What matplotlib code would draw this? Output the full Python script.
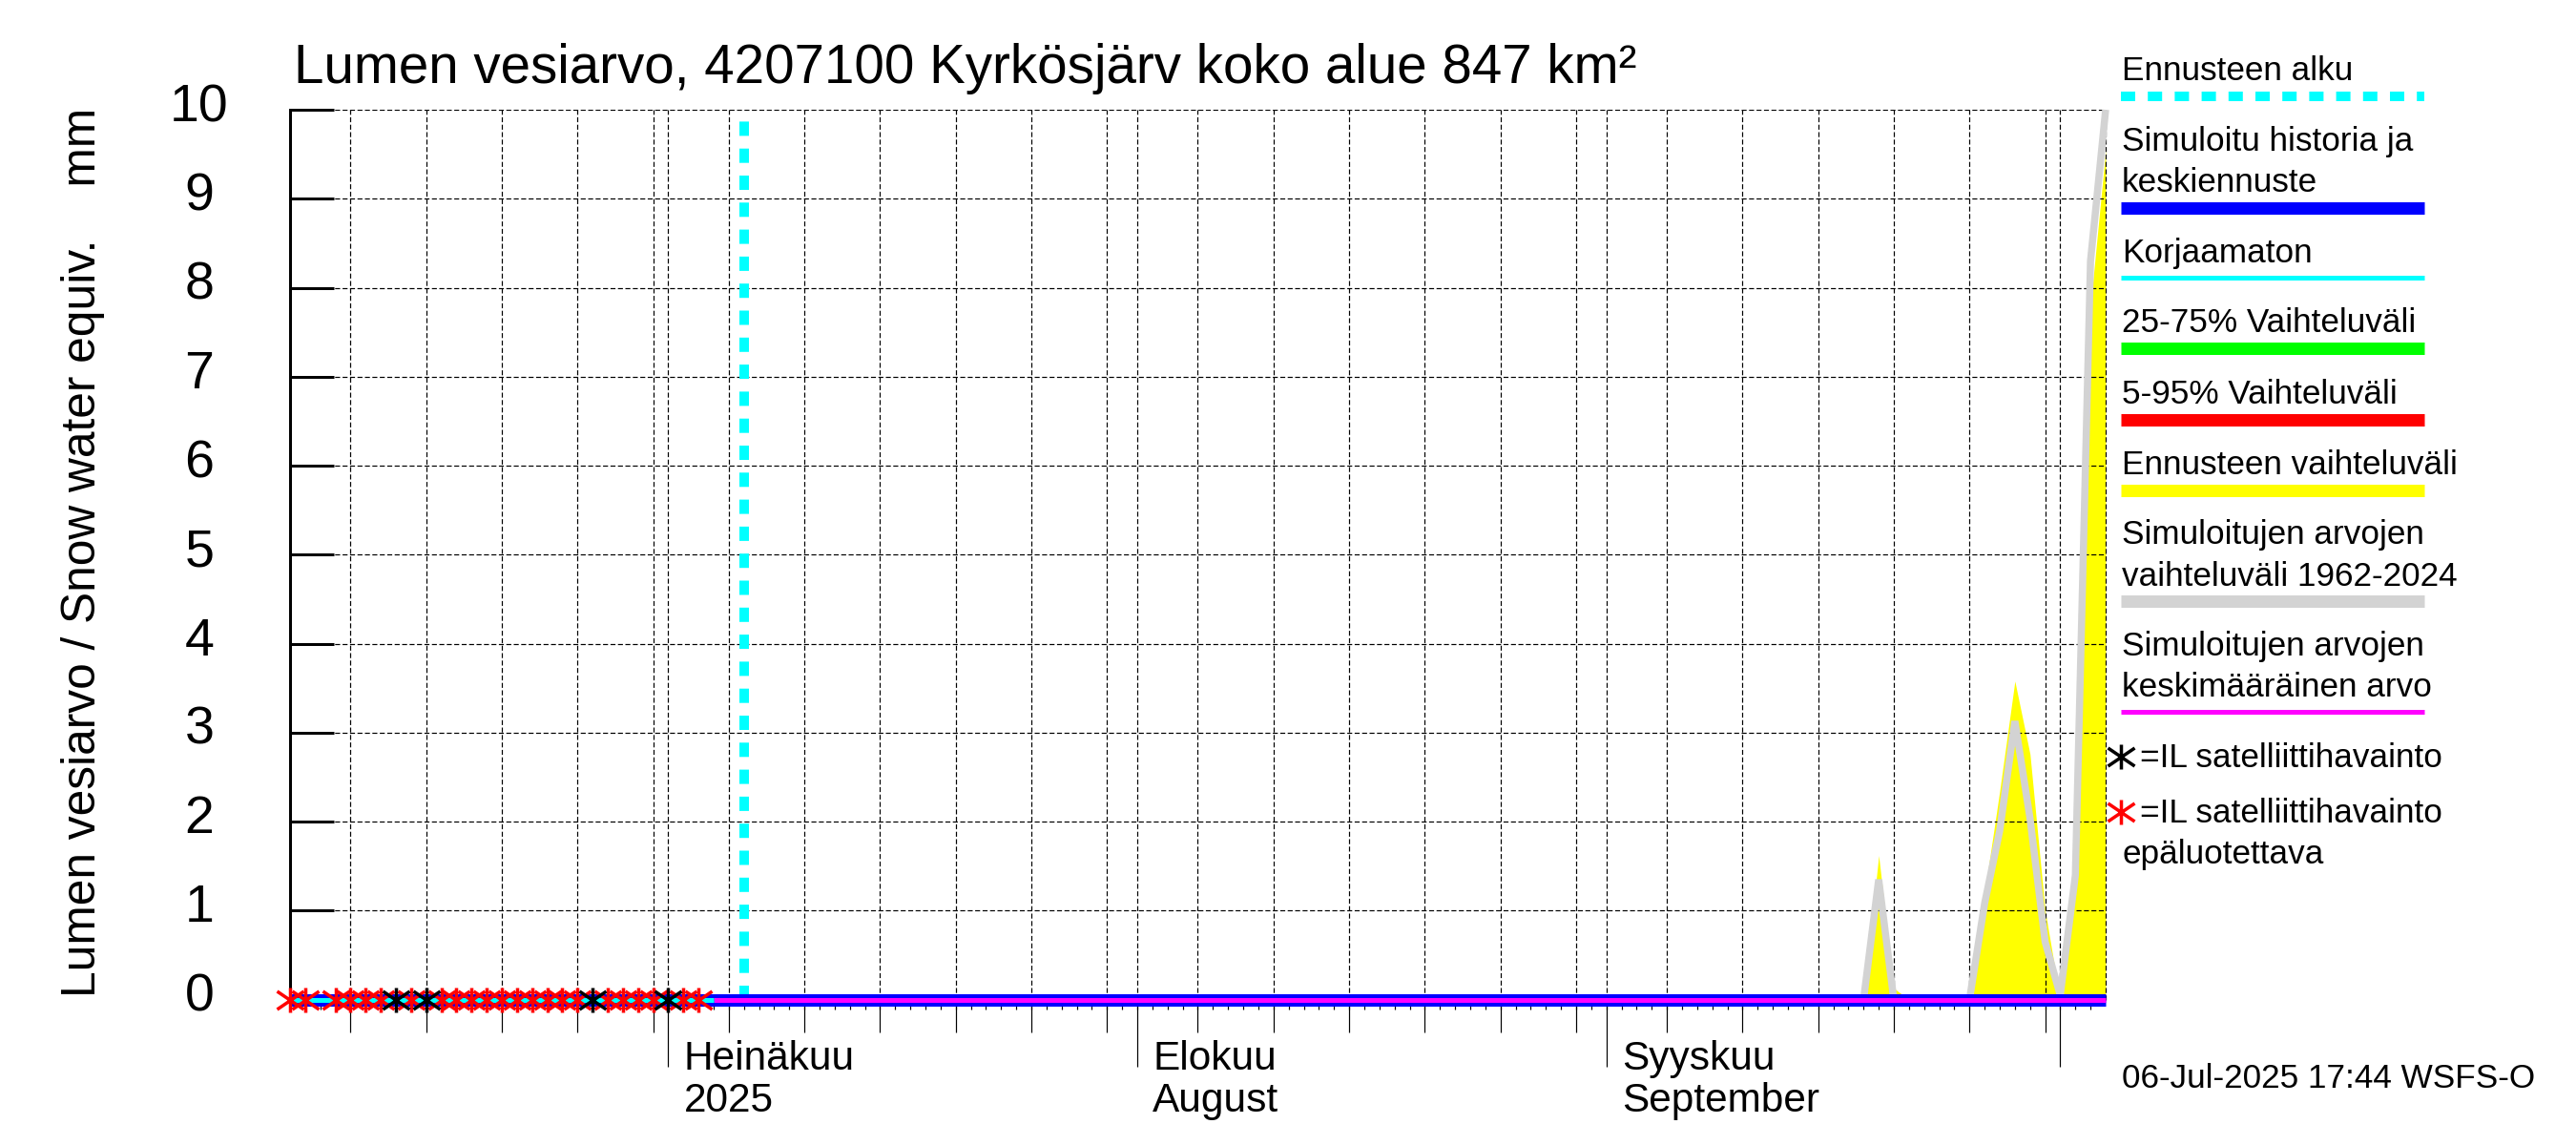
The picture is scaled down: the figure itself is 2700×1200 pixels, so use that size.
import matplotlib
matplotlib.use('Agg')
import matplotlib.dates as mdates
import matplotlib.pyplot as plt
from matplotlib.lines import Line2D
from matplotlib.path import Path

plt.rcParams['font.family'] = ['Liberation Sans', 'DejaVu Sans']
plt.rcParams['lines.scale_dashes'] = False

# Data
title = 'Lumen vesiarvo, 4207100 Kyrkösjärv koko alue 847 km²'
ylabel = 'Lumen vesiarvo / Snow water equiv.    mm'
yticks = [0, 1, 2, 3, 4, 5, 6, 7, 8, 9, 10]

start_date = '2025-06-06'
end_date = '2025-10-04'
forecast_date = '2025-07-06'
forecast_top = 9.87

sim_dates = ['2025-06-06', '2025-10-04']
sim_values = [0.0, 0.0]
raw_dates = ['2025-06-06', '2025-07-04']
raw_values = [0.0, 0.0]
mean_dates = ['2025-07-04', '2025-10-04']
mean_values = [0.0, 0.0]

range_dates = ['2025-06-06', '2025-09-18', '2025-09-19', '2025-09-20', '2025-09-21', '2025-09-25',
               '2025-09-26', '2025-09-27', '2025-09-28', '2025-09-29', '2025-09-30', '2025-10-01',
               '2025-10-02', '2025-10-03', '2025-10-04']
fc_range = [0.0, 0.0, 1.62, 0.13, 0.0, 0.0, 1.2, 2.35, 3.58, 2.76, 1.0, 0.0, 1.3, 7.8, 9.55]
hist_range = [0.0, 0.0, 1.35, 0.0, 0.0, 0.0, 1.08, 1.9, 3.13, 2.04, 0.65, 0.05, 1.4, 8.3, 10.0]

red_dates = ['2025-06-06', '2025-06-07', '2025-06-09', '2025-06-10', '2025-06-11', '2025-06-12',
             '2025-06-14', '2025-06-16', '2025-06-17', '2025-06-18', '2025-06-19', '2025-06-20',
             '2025-06-21', '2025-06-22', '2025-06-23', '2025-06-24', '2025-06-25', '2025-06-27',
             '2025-06-28', '2025-06-29', '2025-06-30', '2025-07-02', '2025-07-03']
red_values = [0.0] * len(red_dates)
black_dates = ['2025-06-13', '2025-06-15', '2025-06-26', '2025-07-01']
black_values = [0.0, 0.0, 0.0, 0.0]

month_dates = ['2025-07-01', '2025-08-01', '2025-09-01', '2025-10-01']
month_labels = ['Heinäkuu\n2025', 'Elokuu\nAugust', 'Syyskuu\nSeptember', '']
five_days = [5, 10, 15, 20, 25, 30]
five_months = [6, 7, 8, 9]

legend_rows = [
  ('Ennusteen alku', 84.4), ('Simuloitu historia ja', 157.9), ('keskiennuste', 200.8),
  ('Korjaamaton', 275.0), ('25-75% Vaihteluväli', 348.5), ('5-95% Vaihteluväli', 422.7),
  ('Ennusteen vaihteluväli', 497.0), ('Simuloitujen arvojen', 570.5),
  ('vaihteluväli 1962-2024', 613.6), ('Simuloitujen arvojen', 687.0),
  ('keskimääräinen arvo', 730.0), ('epäluotettava', 905.0), ('06-Jul-2025 17:44 WSFS-O', 1139.8),
]
legend_bars = [
  ('#00ffff', 101.0, 10), ('#0000ff', 217.5, 13), ('#00ffff', 291.4, 5), ('#00ff00', 365.3, 13),
  ('#ff0000', 439.7, 13), ('#ffff00', 513.6, 13), ('#d3d3d3', 629.5, 13), ('#ff00ff', 746.4, 5),
]

W = 2700
H = 1200
PT = 0.72 # points per pixel at dpi 100
LEGEND_SIZE = 25.3


def d(dates):
  return mdates.datestr2num(dates)


fig = plt.figure(figsize=(W/100, H/100), dpi=100)
ax = fig.add_axes([304/W, 1-1047.7/H, (2207-304)/W, (1047.7-115)/H])
ax.set_xlim(d(start_date), d(end_date))
ax.set_ylim(0, 10)
ax.set_axisbelow('line')

for side in ['top', 'right', 'bottom']:
  ax.spines[side].set_visible(False)
ax.spines['left'].set_linewidth(3*PT)
ax.spines['left'].set_zorder(6)

# grid, dashes are in points because scale_dashes is off
grid_style = (0, (5.2*PT, 2.6*PT))
cyan_dash = (0, (15*PT, 13.3*PT))
ax.set_yticks(yticks)
ax.set_yticklabels([])
ax.tick_params(axis='y', which='major', direction='in', length=46*PT, width=3*PT)
ax.grid(axis='y', color='black', linewidth=1.2*PT, linestyle=grid_style)

five_ticks = [mdates.datestr2num('2025-%02d-%02d' % (m, x)) for m in five_months for x in five_days]
five_ticks = [t for t in five_ticks if d(start_date) < t < d(end_date)]
ax.set_xticks(d(month_dates))
ax.set_xticks(five_ticks, minor=True)
ax.set_xticklabels([])
ax.tick_params(axis='x', which='major', direction='out', length=70*PT, width=1.2*PT)
ax.tick_params(axis='x', which='minor', direction='out', length=34*PT, width=1.2*PT)
ax.grid(axis='x', which='both', color='black', linewidth=1.2*PT, linestyle=grid_style)
ax.axvline(d(end_date), color='black', linewidth=1.2*PT, linestyle=grid_style, zorder=1.5, clip_on=False)

# daily ticks
sec = ax.secondary_xaxis('bottom')
sec.spines['bottom'].set_visible(False)
sec.set_xticks(list(range(int(d(start_date)), int(d(end_date)))))
sec.set_xticklabels([])
sec.tick_params(axis='x', direction='out', length=9.5*PT, width=1.2*PT)

# series
ax.fill_between(d(range_dates), fc_range, 0, color='#ffff00', linewidth=0, zorder=1)
ax.plot(d(range_dates), hist_range, color='#d3d3d3', linewidth=7.5*PT, solid_joinstyle='bevel',
        solid_capstyle='butt', clip_on=False, zorder=2)
ax.plot(d([forecast_date, forecast_date]), [0, forecast_top], color='#00ffff', linewidth=10*PT,
        linestyle=cyan_dash, dash_capstyle='butt', zorder=3)
ax.plot(d(sim_dates), sim_values, color='#0000ff', linewidth=13*PT, solid_capstyle='butt', clip_on=False, zorder=4)
ax.plot(d(mean_dates), mean_values, color='#ff00ff', linewidth=5*PT, solid_capstyle='butt', clip_on=False, zorder=5)
ax.plot(d(raw_dates), raw_values, color='#00ffff', linewidth=5*PT, solid_capstyle='butt', clip_on=False, zorder=5)

star = Path([(0, -13), (0, 13), (-14, -9.5), (14, 9.5), (-14, 9.5), (14, -9.5)],
            [Path.MOVETO, Path.LINETO, Path.MOVETO, Path.LINETO, Path.MOVETO, Path.LINETO])
ax.plot(d(red_dates), red_values, linestyle='none', marker=star, markersize=28*PT, mew=3.5*PT,
        mec='#ff0000', mfc='none', clip_on=False, zorder=7)
ax.plot(d(black_dates), black_values, linestyle='none', marker=star, markersize=28*PT, mew=3.5*PT,
        mec='black', mfc='none', clip_on=False, zorder=8)

# texts
fig.text(308/W, 1-86.7/H, title, fontsize=40.7, ha='left', va='baseline')
fig.text(100/W, 1-1045/H, ylabel, fontsize=35.7, rotation=90, ha='left', va='baseline',
         rotation_mode='anchor')
for v in yticks:
  ax.annotate(str(v), xy=(0, v), xycoords=ax.get_yaxis_transform(), xytext=(-95, -12),
              textcoords='offset pixels', fontsize=40, ha='center', va='baseline', annotation_clip=False)
for m, label in zip(month_dates, month_labels):
  lines = label.split('\n')
  if lines[0] != '':
    ax.annotate(lines[0], xy=(d(m), 0), xycoords=ax.get_xaxis_transform(), xytext=(16, -73),
                textcoords='offset pixels', fontsize=30.5, ha='left', va='baseline', annotation_clip=False)
    ax.annotate(lines[1], xy=(d(m), 0), xycoords=ax.get_xaxis_transform(), xytext=(16, -117),
                textcoords='offset pixels', fontsize=30.5, ha='left', va='baseline', annotation_clip=False)

# legend
for text, y in legend_rows:
  fig.text(2224/W, 1-y/H, text, fontsize=LEGEND_SIZE, ha='left', va='baseline')
fig.text(2242.7/W, 1-803.8/H, '=IL satelliittihavainto', fontsize=LEGEND_SIZE, ha='left', va='baseline')
fig.text(2242.7/W, 1-862.4/H, '=IL satelliittihavainto', fontsize=LEGEND_SIZE, ha='left', va='baseline')
for i, (color, y, h) in enumerate(legend_bars):
  style = (0, (15*PT, 13.2*PT)) if i == 0 else 'solid'
  fig.add_artist(Line2D([2223/W, 2541/W], [1-y/H, 1-y/H], transform=fig.transFigure, color=color,
                        linewidth=h*PT, linestyle=style, solid_capstyle='butt', dash_capstyle='butt'))
fig.add_artist(Line2D([2223/W], [1-793/H], transform=fig.transFigure, linestyle='none', marker=star,
                      markersize=28*PT, mew=3.5*PT, mec='black', mfc='none'))
fig.add_artist(Line2D([2223/W], [1-850.7/H], transform=fig.transFigure, linestyle='none', marker=star,
                      markersize=28*PT, mew=3.5*PT, mec='#ff0000', mfc='none'))

fig.savefig('out.png', dpi=100)
plt.close(fig)
